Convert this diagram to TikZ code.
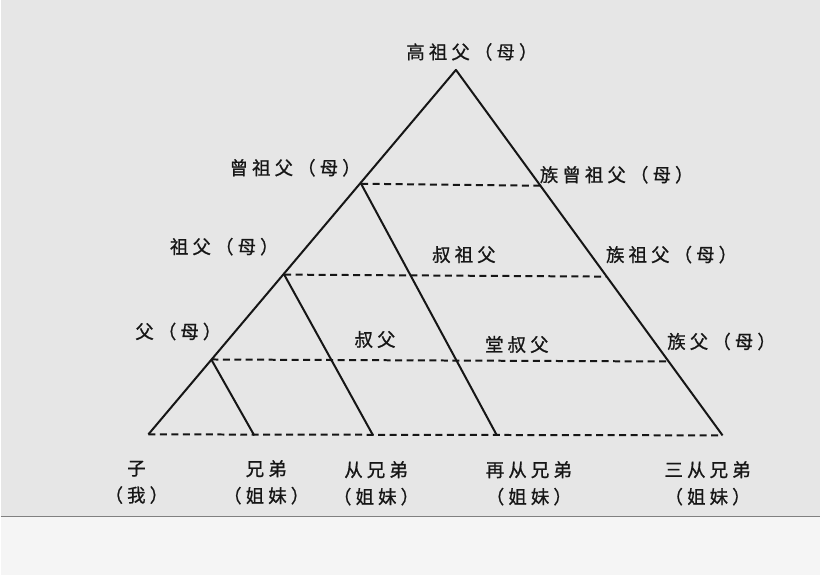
\documentclass[tikz,border=0pt]{standalone}
\usepackage{fontspec}
\usepackage[]{xcolor}
\usepackage{tikz}
\newfontfamily\cjk[LetterSpace=22,FakeBold=0.8]{Noto Sans CJK SC}
\definecolor{paper}{RGB}{230,230,230}
\definecolor{ink}{RGB}{22,22,22}

\begin{document}
\begin{tikzpicture}[x=1pt,y=-1pt,
    lbl/.style={text=ink,font=\cjk\fontsize{18.5}{27}\selectfont,inner sep=0pt,align=center},
    edge/.style={draw=ink,line width=2pt,line join=round},
    gen/.style={draw=ink,line width=2pt,dash pattern=on 7pt off 4.5pt}]
    \fill[paper]    (0,0) rectangle (821,517);
    \fill[gray!8]   (0,517) rectangle (821,576);
    \draw[gray,line width=1.2pt]    (0,517) -- (821,517);
    \useasboundingbox (0,0) rectangle (821,576);
    % corners and points on the sides
    \coordinate (top)   at (456,70);
    \coordinate (left)  at (148,435);
    \coordinate (right) at (723,436);
    \coordinate (g1) at (361,184);
    \coordinate (g2) at (284,275);
    \coordinate (g3) at (211,360);
    \coordinate (r1) at (540,186);
    \coordinate (r2) at (607,277);
    \coordinate (r3) at (667,362);
    \coordinate (b1) at (254,436);
    \coordinate (b2) at (373,436);
    \coordinate (b3) at (497,436);
    \draw[edge]    (left) -- (top) -- (right);
    \draw[edge]    (g1) -- (b3);
    \draw[edge]    (g2) -- (b2);
    \draw[edge]    (g3) -- (b1);
    \draw[gen]     (g1) -- (r1);
    \draw[gen]     (g2) -- (r2);
    \draw[gen]     (g3) -- (r3);
    \draw[gen]     (left) -- (right);
    % ancestors
    \node[lbl] (gaozu)   at (472,52)  {高祖父（母）};
    \node[lbl] (zengzu)  at (295,168) {曾祖父（母）};
    \node[lbl] (zuzeng)  at (617,175) {族曾祖父（母）};
    \node[lbl] (zufu)    at (224,247) {祖父（母）};
    \node[lbl] (shuzu)   at (464,255) {叔祖父};
    \node[lbl] (zuzu)    at (672,255) {族祖父（母）};
    \node[lbl] (fu)      at (178,332) {父（母）};
    \node[lbl] (shufu)   at (375,340) {叔父};
    \node[lbl] (tangshu) at (517,345) {堂叔父};
    \node[lbl] (zufu2)   at (722,342) {族父（母）};
    % same generation
    \node[lbl] (zi)      at (136,483) {子\\（我）};
    \node[lbl] (xiong)   at (266,483) {兄弟\\（姐妹）};
    \node[lbl] (cong)    at (376,484) {从兄弟\\（姐妹）};
    \node[lbl] (zaicong) at (529,484) {再从兄弟\\（姐妹）};
    \node[lbl] (sancong) at (708,484) {三从兄弟\\（姐妹）};
\end{tikzpicture}
\end{document}
